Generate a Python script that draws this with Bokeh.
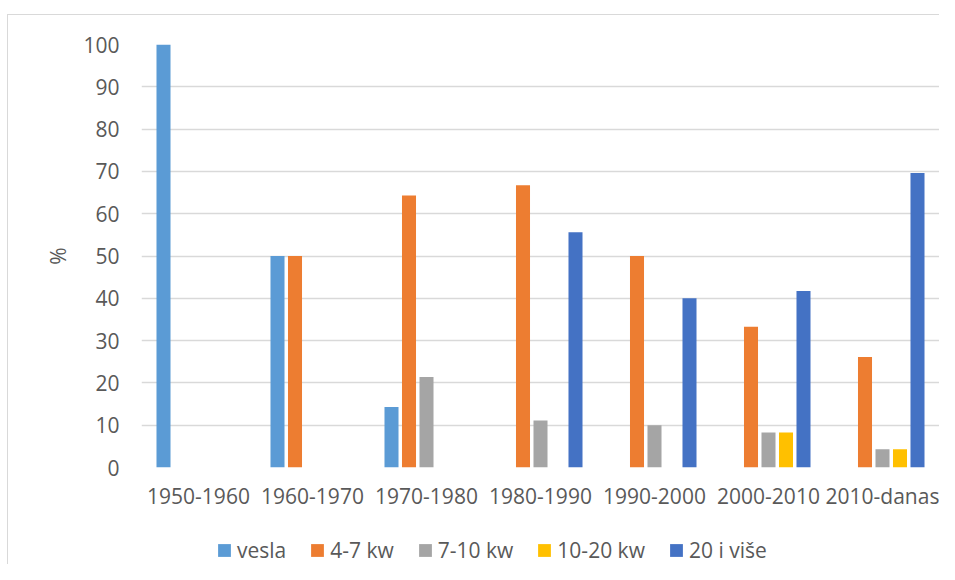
from bokeh.plotting import figure
from bokeh.layouts import column
from bokeh.models import ColumnDataSource, FactorRange, Range1d, FixedTicker, Legend, LegendItem
from bokeh.transform import dodge
from bokeh.embed import file_html
from bokeh.resources import INLINE

categories = ["1950-1960", "1960-1970", "1970-1980", "1980-1990", "1990-2000", "2000-2010", "2010-danas"]
series_names = ["vesla", "4-7 kw", "7-10 kw", "10-20 kw", "20 i više"]
vesla = [100, 50, 14.3, 0, 0, 0, 0]
kw_4_7 = [0, 50, 64.3, 66.7, 50, 33.3, 26.1]
kw_7_10 = [0, 0, 21.4, 11.1, 10, 8.3, 4.3]
kw_10_20 = [0, 0, 0, 0, 0, 8.3, 4.3]
kw_20_plus = [0, 0, 0, 55.6, 40, 41.7, 69.6]
y_ticks = [0, 10, 20, 30, 40, 50, 60, 70, 80, 90, 100]

colors = ["#5B9BD5", "#ED7D31", "#A5A5A5", "#FFC000", "#4472C4"]
cols = ["vesla", "kw_4_7", "kw_7_10", "kw_10_20", "kw_20_plus"]

source = ColumnDataSource(dict(cat=categories, vesla=vesla, kw_4_7=kw_4_7,
                               kw_7_10=kw_7_10, kw_10_20=kw_10_20, kw_20_plus=kw_20_plus))

FONT = "Open Sans"
TXT = "#595959"
W = 931

p = figure(x_range=FactorRange(*categories), y_range=Range1d(0, 100),
           width=W, height=500, output_backend="svg", toolbar_location=None,
           min_border_left=133, min_border_right=0, min_border_top=29, min_border_bottom=48)
p.outline_line_color = None
p.background_fill_color = "white"
p.border_fill_color = "white"

pitch = 0.1535
bar_w = 0.123
for i, (c, col) in enumerate(zip(cols, colors)):
    p.vbar(x=dodge("cat", (i - 2) * pitch, range=p.x_range), top=c, width=bar_w,
           source=source, fill_color=col, line_color=None)

p.xgrid.visible = False
p.ygrid.grid_line_color = "#D9D9D9"
p.ygrid.grid_line_width = 1.5
p.yaxis.ticker = FixedTicker(ticks=y_ticks)

for ax in (p.xaxis[0], p.yaxis[0]):
    ax.axis_line_color = None
    ax.major_tick_line_color = None
    ax.minor_tick_line_color = None
    ax.major_label_text_font = FONT
    ax.major_label_text_font_size = "21px"
    ax.major_label_text_color = TXT

p.yaxis.major_label_standoff = 16
p.xaxis.major_label_standoff = 8
p.yaxis.axis_label = "%"
p.yaxis.axis_label_text_font = FONT
p.yaxis.axis_label_text_font_size = "21px"
p.yaxis.axis_label_text_font_style = "normal"
p.yaxis.axis_label_text_color = TXT
p.yaxis.axis_label_standoff = 8

# legend strip
lg = figure(width=W, height=49, output_backend="svg", toolbar_location=None,
            x_range=Range1d(0, 1), y_range=Range1d(0, 1),
            x_axis_location=None, y_axis_location=None,
            min_border_left=0, min_border_right=0, min_border_top=0, min_border_bottom=0)
lg.outline_line_color = None
lg.xgrid.visible = False
lg.ygrid.visible = False
lg.border_fill_color = "white"
items = []
for name, col in zip(series_names, colors):
    r = lg.vbar(x=[0.5], top=[0], bottom=[0], width=0.01, fill_color=col, line_color=None)
    items.append(LegendItem(label=name, renderers=[r]))

legend = Legend(items=items, orientation="horizontal", location=(75, 0),
                label_text_font=FONT, label_text_font_size="21px", label_text_color=TXT,
                glyph_width=16, glyph_height=16, label_standoff=5, spacing=23,
                padding=0, margin=0, border_line_color=None, background_fill_alpha=0,
                label_height=20)
lg.add_layout(legend, "center")

layout = column(p, lg, spacing=0, margin=(14, 0, 0, 7),
                styles={"border-left": "1px solid #d9d9d9", "border-top": "1px solid #d9d9d9"})
open("out.html", "w").write(file_html(layout, INLINE))
